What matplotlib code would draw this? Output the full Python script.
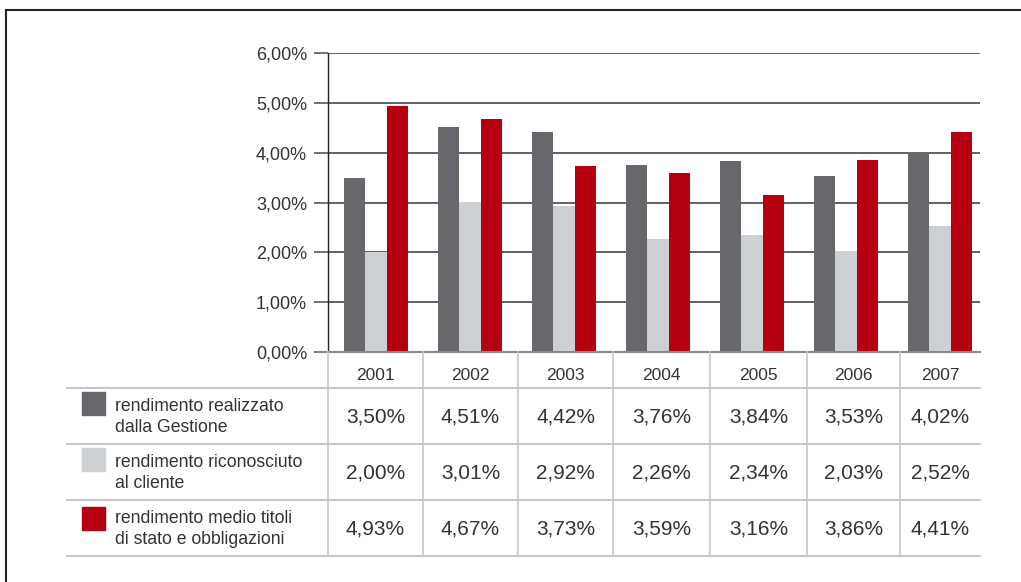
import numpy as np
import matplotlib
matplotlib.use("Agg")
import matplotlib.pyplot as plt
from matplotlib.lines import Line2D
from matplotlib.patches import Rectangle

plt.rcParams['font.family'] = ['Liberation Sans', 'DejaVu Sans']

years = ['2001', '2002', '2003', '2004', '2005', '2006', '2007']
gestione = [3.50, 4.51, 4.42, 3.76, 3.84, 3.53, 4.02]
cliente = [2.00, 3.01, 2.92, 2.26, 2.34, 2.03, 2.52]
titoli = [4.93, 4.67, 3.73, 3.59, 3.16, 3.86, 4.41]
series = [gestione, cliente, titoli]
labels = ['rendimento realizzato\ndalla Gestione',
          'rendimento riconosciuto\nal cliente',
          'rendimento medio titoli\ndi stato e obbligazioni']
colors = ['#68676c', '#cdd0d3', '#b5000f']
yticks = [0, 1, 2, 3, 4, 5, 6]

W, H = 1021, 582
fig = plt.figure(figsize=(W / 100, H / 100), dpi=100)

def fx(x):
    return x / W

def fy(y):
    return 1 - y / H

def hline(x0, x1, y, color, lw):
    fig.add_artist(Line2D([fx(x0), fx(x1)], [fy(y), fy(y)], color=color, lw=lw,
                          transform=fig.transFigure))

def vline(x, y0, y1, color, lw):
    fig.add_artist(Line2D([fx(x), fx(x)], [fy(y0), fy(y1)], color=color, lw=lw,
                          transform=fig.transFigure))

# outer frame (top and left)
hline(6, W, 10, '#222222', 1.5)
vline(6, 10, H, '#222222', 1.5)

# bar chart
ax_l, ax_r, ax_t, ax_b = 328, 980, 53, 352
ax = fig.add_axes([fx(ax_l), fy(ax_b), fx(ax_r - ax_l), (ax_b - ax_t) / H])
x = np.arange(len(years))
bw = 0.229
for i, (vals, c) in enumerate(zip(series, colors)):
    ax.bar(x + (i - 1) * bw, vals, width=bw, color=c, zorder=3)

ax.set_xlim((ax_l - 376) / 94, (ax_r - 376) / 94)
ax.set_ylim(0, 6)
ax.set_yticks(yticks)
ax.set_yticklabels([f'{v:.2f}%'.replace('.', ',') for v in yticks],
                   fontsize=13, color='#333333')
ax.set_xticks([])
ax.tick_params(axis='y', length=10, width=1.3, color='#666666', pad=5)
ax.yaxis.grid(True, color='#555555', lw=1.3, zorder=0)
ax.set_axisbelow(True)
for s in ['top', 'right', 'bottom']:
    ax.spines[s].set_visible(False)
ax.spines['left'].set_color('#222222')
ax.spines['left'].set_linewidth(1)
ax.spines['left'].set_zorder(4)

# table below
col_edges = [328, 423, 518, 613, 710, 807, 900, 980]
row_lines = [388, 444, 500, 556]
tcol = '#c6c7ca'
hline(318, 980, 352, '#8a8a8a', 1.5)
for y in row_lines:
    hline(67, 980, y, tcol, 1.5)
for xe in col_edges[:-1]:
    vline(xe, 352, 556, tcol, 1.2)

col_centers = [(a + b) / 2 for a, b in zip(col_edges[:-1], col_edges[1:])]
for cx, yr in zip(col_centers, years):
    fig.text(fx(cx), fy(375), yr, ha='center', va='center', fontsize=12.5, color='#333333')

for r, (vals, c, lab) in enumerate(zip(series, colors, labels)):
    top, bot = row_lines[r], row_lines[r + 1]
    cy = (top + bot) / 2 + 1
    for cx, v in zip(col_centers, vals):
        fig.text(fx(cx), fy(cy), f'{v:.2f}%'.replace('.', ','), ha='center', va='center',
                 fontsize=15, color='#333333')
    sq_top = top + 4 + (3 if r == 2 else 0)
    fig.add_artist(Rectangle((fx(82), fy(sq_top + 23)), fx(23), 23 / H, color=c,
                             transform=fig.transFigure))
    fig.text(fx(115), fy(cy), lab, ha='left', va='center', fontsize=12.7,
             color='#333333', linespacing=1.35)

fig.savefig('out.png', dpi=100)
